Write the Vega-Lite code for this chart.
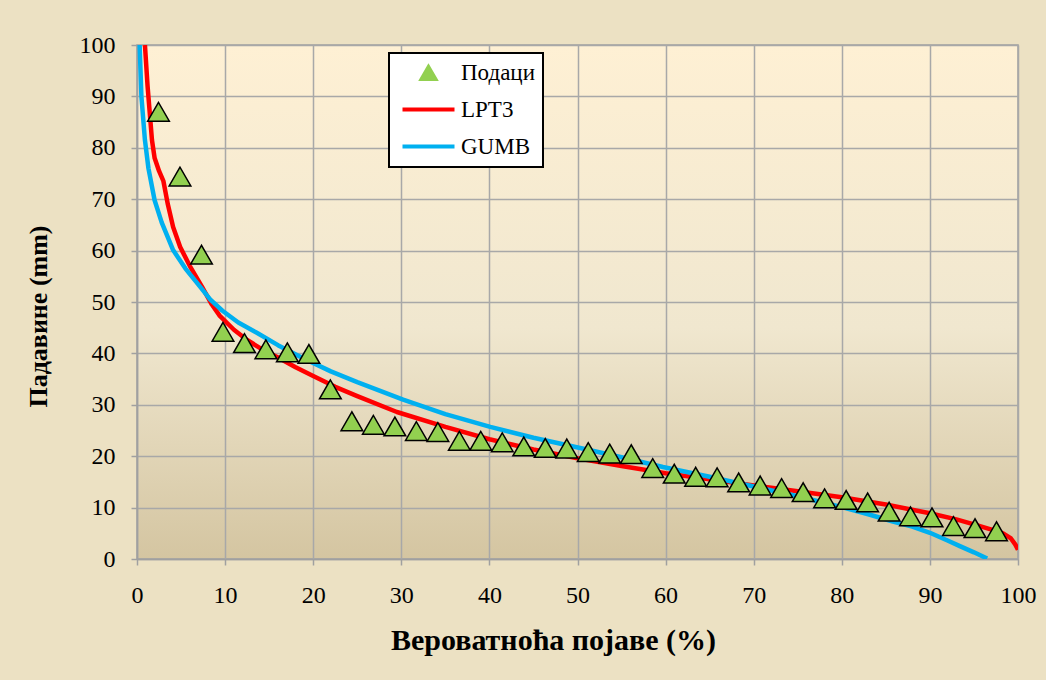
{
  "$schema": "https://vega.github.io/schema/vega-lite/v6.json",
  "width": 881,
  "height": 514,
  "autosize": {"type": "none"},
  "padding": {"left": 137, "top": 45, "right": 28, "bottom": 121},
  "background": "#ECE1C3",
  "config": {
    "view": {
      "stroke": "#A0A0A0",
      "strokeWidth": 1.5,
      "fill": {
        "gradient": "linear",
        "x1": 0, "y1": 0, "x2": 0, "y2": 1,
        "stops": [
          {"offset": 0, "color": "#FEF0D4"},
          {"offset": 0.55, "color": "#F0E7CF"},
          {"offset": 1, "color": "#D4C5A1"}
        ]
      }
    },
    "font": "Liberation Serif",
    "axis": {
      "gridColor": "#A8A8A8",
      "gridWidth": 1.5,
      "gridOpacity": 1,
      "domainColor": "#A0A0A0",
      "domainWidth": 1.5,
      "tickColor": "#A0A0A0",
      "tickWidth": 1.5,
      "tickSize": 6,
      "labelFont": "Liberation Serif",
      "labelFontSize": 24,
      "labelColor": "#000000",
      "titleFont": "Liberation Serif",
      "titleFontSize": 26,
      "titleFontWeight": "bold",
      "titleColor": "#000000"
    }
  },
  "data": {
    "values": [
      {"series": "Подаци", "x": 2.44, "y": 87.0},
      {"series": "Подаци", "x": 4.88, "y": 74.4},
      {"series": "Подаци", "x": 7.32, "y": 59.2},
      {"series": "Подаци", "x": 9.76, "y": 44.2},
      {"series": "Подаци", "x": 12.2, "y": 42.0},
      {"series": "Подаци", "x": 14.63, "y": 40.8},
      {"series": "Подаци", "x": 17.07, "y": 40.2},
      {"series": "Подаци", "x": 19.51, "y": 39.9},
      {"series": "Подаци", "x": 21.95, "y": 33.0},
      {"series": "Подаци", "x": 24.39, "y": 26.8},
      {"series": "Подаци", "x": 26.83, "y": 26.1},
      {"series": "Подаци", "x": 29.27, "y": 25.8},
      {"series": "Подаци", "x": 31.71, "y": 24.9},
      {"series": "Подаци", "x": 34.15, "y": 24.7},
      {"series": "Подаци", "x": 36.59, "y": 23.0},
      {"series": "Подаци", "x": 39.02, "y": 23.0},
      {"series": "Подаци", "x": 41.46, "y": 22.7},
      {"series": "Подаци", "x": 43.9, "y": 21.9},
      {"series": "Подаци", "x": 46.34, "y": 21.6},
      {"series": "Подаци", "x": 48.78, "y": 21.5},
      {"series": "Подаци", "x": 51.22, "y": 20.8},
      {"series": "Подаци", "x": 53.66, "y": 20.5},
      {"series": "Подаци", "x": 56.1, "y": 20.4},
      {"series": "Подаци", "x": 58.54, "y": 17.7},
      {"series": "Подаци", "x": 60.98, "y": 16.6},
      {"series": "Подаци", "x": 63.41, "y": 16.0},
      {"series": "Подаци", "x": 65.85, "y": 15.9},
      {"series": "Подаци", "x": 68.29, "y": 14.9},
      {"series": "Подаци", "x": 70.73, "y": 14.3},
      {"series": "Подаци", "x": 73.17, "y": 13.8},
      {"series": "Подаци", "x": 75.61, "y": 13.0},
      {"series": "Подаци", "x": 78.05, "y": 11.8},
      {"series": "Подаци", "x": 80.49, "y": 11.5},
      {"series": "Подаци", "x": 82.93, "y": 11.0},
      {"series": "Подаци", "x": 85.37, "y": 9.2},
      {"series": "Подаци", "x": 87.8, "y": 8.3},
      {"series": "Подаци", "x": 90.24, "y": 8.1},
      {"series": "Подаци", "x": 92.68, "y": 6.4},
      {"series": "Подаци", "x": 95.12, "y": 6.0},
      {"series": "Подаци", "x": 97.56, "y": 5.4},
      {"series": "LPT3", "x": 0.9, "y": 100},
      {"series": "LPT3", "x": 1.2, "y": 92},
      {"series": "LPT3", "x": 1.7, "y": 81.5},
      {"series": "LPT3", "x": 2.0, "y": 78},
      {"series": "LPT3", "x": 2.5, "y": 75.5},
      {"series": "LPT3", "x": 3.0, "y": 73.5},
      {"series": "LPT3", "x": 3.5, "y": 69},
      {"series": "LPT3", "x": 4.1, "y": 64.6},
      {"series": "LPT3", "x": 4.9, "y": 60.7},
      {"series": "LPT3", "x": 6.0, "y": 57},
      {"series": "LPT3", "x": 7.4, "y": 52.9},
      {"series": "LPT3", "x": 8.5, "y": 49.5},
      {"series": "LPT3", "x": 9.4, "y": 47.3},
      {"series": "LPT3", "x": 11, "y": 44.6},
      {"series": "LPT3", "x": 12.5, "y": 42.6},
      {"series": "LPT3", "x": 14.3, "y": 40.7},
      {"series": "LPT3", "x": 15.9, "y": 39.3},
      {"series": "LPT3", "x": 18, "y": 37.3},
      {"series": "LPT3", "x": 20, "y": 35.6},
      {"series": "LPT3", "x": 22.5, "y": 33.5},
      {"series": "LPT3", "x": 25, "y": 31.7},
      {"series": "LPT3", "x": 29.5, "y": 28.6},
      {"series": "LPT3", "x": 35, "y": 25.7},
      {"series": "LPT3", "x": 40, "y": 23.3},
      {"series": "LPT3", "x": 45, "y": 21.3},
      {"series": "LPT3", "x": 50, "y": 19.6},
      {"series": "LPT3", "x": 55, "y": 18.1},
      {"series": "LPT3", "x": 60, "y": 16.7},
      {"series": "LPT3", "x": 65, "y": 15.5},
      {"series": "LPT3", "x": 70, "y": 14.3},
      {"series": "LPT3", "x": 75, "y": 13.2},
      {"series": "LPT3", "x": 80, "y": 12.0},
      {"series": "LPT3", "x": 85, "y": 10.6},
      {"series": "LPT3", "x": 90, "y": 8.9},
      {"series": "LPT3", "x": 93, "y": 7.7},
      {"series": "LPT3", "x": 95.3, "y": 6.6},
      {"series": "LPT3", "x": 97, "y": 5.7},
      {"series": "LPT3", "x": 98.3, "y": 5.0},
      {"series": "LPT3", "x": 99.2, "y": 4.0},
      {"series": "LPT3", "x": 99.7, "y": 2.8},
      {"series": "LPT3", "x": 100, "y": 1.8},
      {"series": "GUMB", "x": 0.3, "y": 100},
      {"series": "GUMB", "x": 0.5, "y": 90},
      {"series": "GUMB", "x": 0.9, "y": 81.5},
      {"series": "GUMB", "x": 1.3, "y": 76},
      {"series": "GUMB", "x": 2.0, "y": 69.8},
      {"series": "GUMB", "x": 2.8, "y": 65.5},
      {"series": "GUMB", "x": 4.1, "y": 60.1},
      {"series": "GUMB", "x": 5.5, "y": 56.5},
      {"series": "GUMB", "x": 7.2, "y": 52.9},
      {"series": "GUMB", "x": 8.3, "y": 50.5},
      {"series": "GUMB", "x": 9.7, "y": 48.3},
      {"series": "GUMB", "x": 11.5, "y": 46},
      {"series": "GUMB", "x": 13.6, "y": 44},
      {"series": "GUMB", "x": 16, "y": 41.6},
      {"series": "GUMB", "x": 18.8, "y": 39.1},
      {"series": "GUMB", "x": 22, "y": 36.5},
      {"series": "GUMB", "x": 25, "y": 34.4},
      {"series": "GUMB", "x": 30.2, "y": 31},
      {"series": "GUMB", "x": 35, "y": 28.2},
      {"series": "GUMB", "x": 40.1, "y": 25.7},
      {"series": "GUMB", "x": 45, "y": 23.6},
      {"series": "GUMB", "x": 50.3, "y": 21.6},
      {"series": "GUMB", "x": 55, "y": 19.8},
      {"series": "GUMB", "x": 59.7, "y": 17.9},
      {"series": "GUMB", "x": 65, "y": 16},
      {"series": "GUMB", "x": 70, "y": 14.1},
      {"series": "GUMB", "x": 75, "y": 12.2},
      {"series": "GUMB", "x": 79.8, "y": 10.2},
      {"series": "GUMB", "x": 83, "y": 8.7},
      {"series": "GUMB", "x": 85.8, "y": 7.3},
      {"series": "GUMB", "x": 88, "y": 6.3},
      {"series": "GUMB", "x": 90, "y": 5.1},
      {"series": "GUMB", "x": 92, "y": 3.6},
      {"series": "GUMB", "x": 93.4, "y": 2.5},
      {"series": "GUMB", "x": 95, "y": 1.3},
      {"series": "GUMB", "x": 96.5, "y": 0.1}
    ]
  },
  "encoding": {
    "x": {
      "field": "x", "type": "quantitative",
      "scale": {"domain": [0, 100], "nice": false, "zero": true},
      "axis": {"values": [0,10,20,30,40,50,60,70,80,90,100], "title": "Вероватноћа појаве (%)", "labelFont": "Liberation Serif", "titleFont": "Liberation Serif", "titleFontSize": 30, "labelPadding": 18, "titlePadding": 18, "titleX": 416, "titleAlign": "center", "labelFlush": false}
    },
    "y": {
      "field": "y", "type": "quantitative",
      "scale": {"domain": [0, 100], "nice": false},
      "axis": {"values": [0,10,20,30,40,50,60,70,80,90,100], "title": "Падавине (mm)", "labelFont": "Liberation Serif", "titleFont": "Liberation Serif", "labelPadding": 16, "titlePadding": 28, "titleY": 271, "titleAlign": "center", "labelFlush": false}
    },
    "color": {
      "field": "series", "type": "nominal",
      "scale": {"domain": ["Подаци", "LPT3", "GUMB"], "range": ["#92D050", "#FF0000", "#00B0F0"]},
      "legend": {
        "title": null,
        "orient": "none",
        "legendX": 252,
        "legendY": 8,
        "fillColor": "#FFFFFF",
        "strokeColor": "#000000",
        "padding": 8,
        "labelFont": "Liberation Serif",
        "labelFontSize": 23,
        "labelColor": "#000000",
        "labelOffset": 21,
        "symbolOffset": 20,
        "symbolSize": 2704,
        "symbolType": "stroke",
        "symbolStrokeWidth": 4,
        "rowPadding": 13,
        "encode": {
          "legend": {
            "update": {"strokeWidth": {"value": 2}}
          },
          "symbols": {
            "update": {
              "shape": {"signal": "datum.value === 'Подаци' ? 'triangle-up' : 'stroke'"},
              "size": {"signal": "datum.value === 'Подаци' ? 324 : 2704"},
              "fill": {"signal": "datum.value === 'Подаци' ? '#92D050' : 'transparent'"},
              "stroke": {"signal": "datum.value === 'Подаци' ? '#000000' : (datum.value === 'LPT3' ? '#FF0000' : '#00B0F0')"},
              "strokeWidth": {"signal": "datum.value === 'Подаци' ? 1.5 : 4"},
              "opacity": {"value": 1}
            }
          }
        }
      }
    }
  },
  "layer": [
    {
      "transform": [{"filter": "datum.series !== 'Подаци'"}],
      "mark": {"type": "line", "strokeWidth": 4.5, "clip": true, "strokeJoin": "round", "strokeCap": "butt"}
    },
    {
      "transform": [{"filter": "datum.series === 'Подаци'"}],
      "mark": {"type": "point", "shape": "triangle-up", "filled": true, "size": 470, "stroke": "#000000", "strokeWidth": 1.5, "opacity": 1}
    }
  ]
}
